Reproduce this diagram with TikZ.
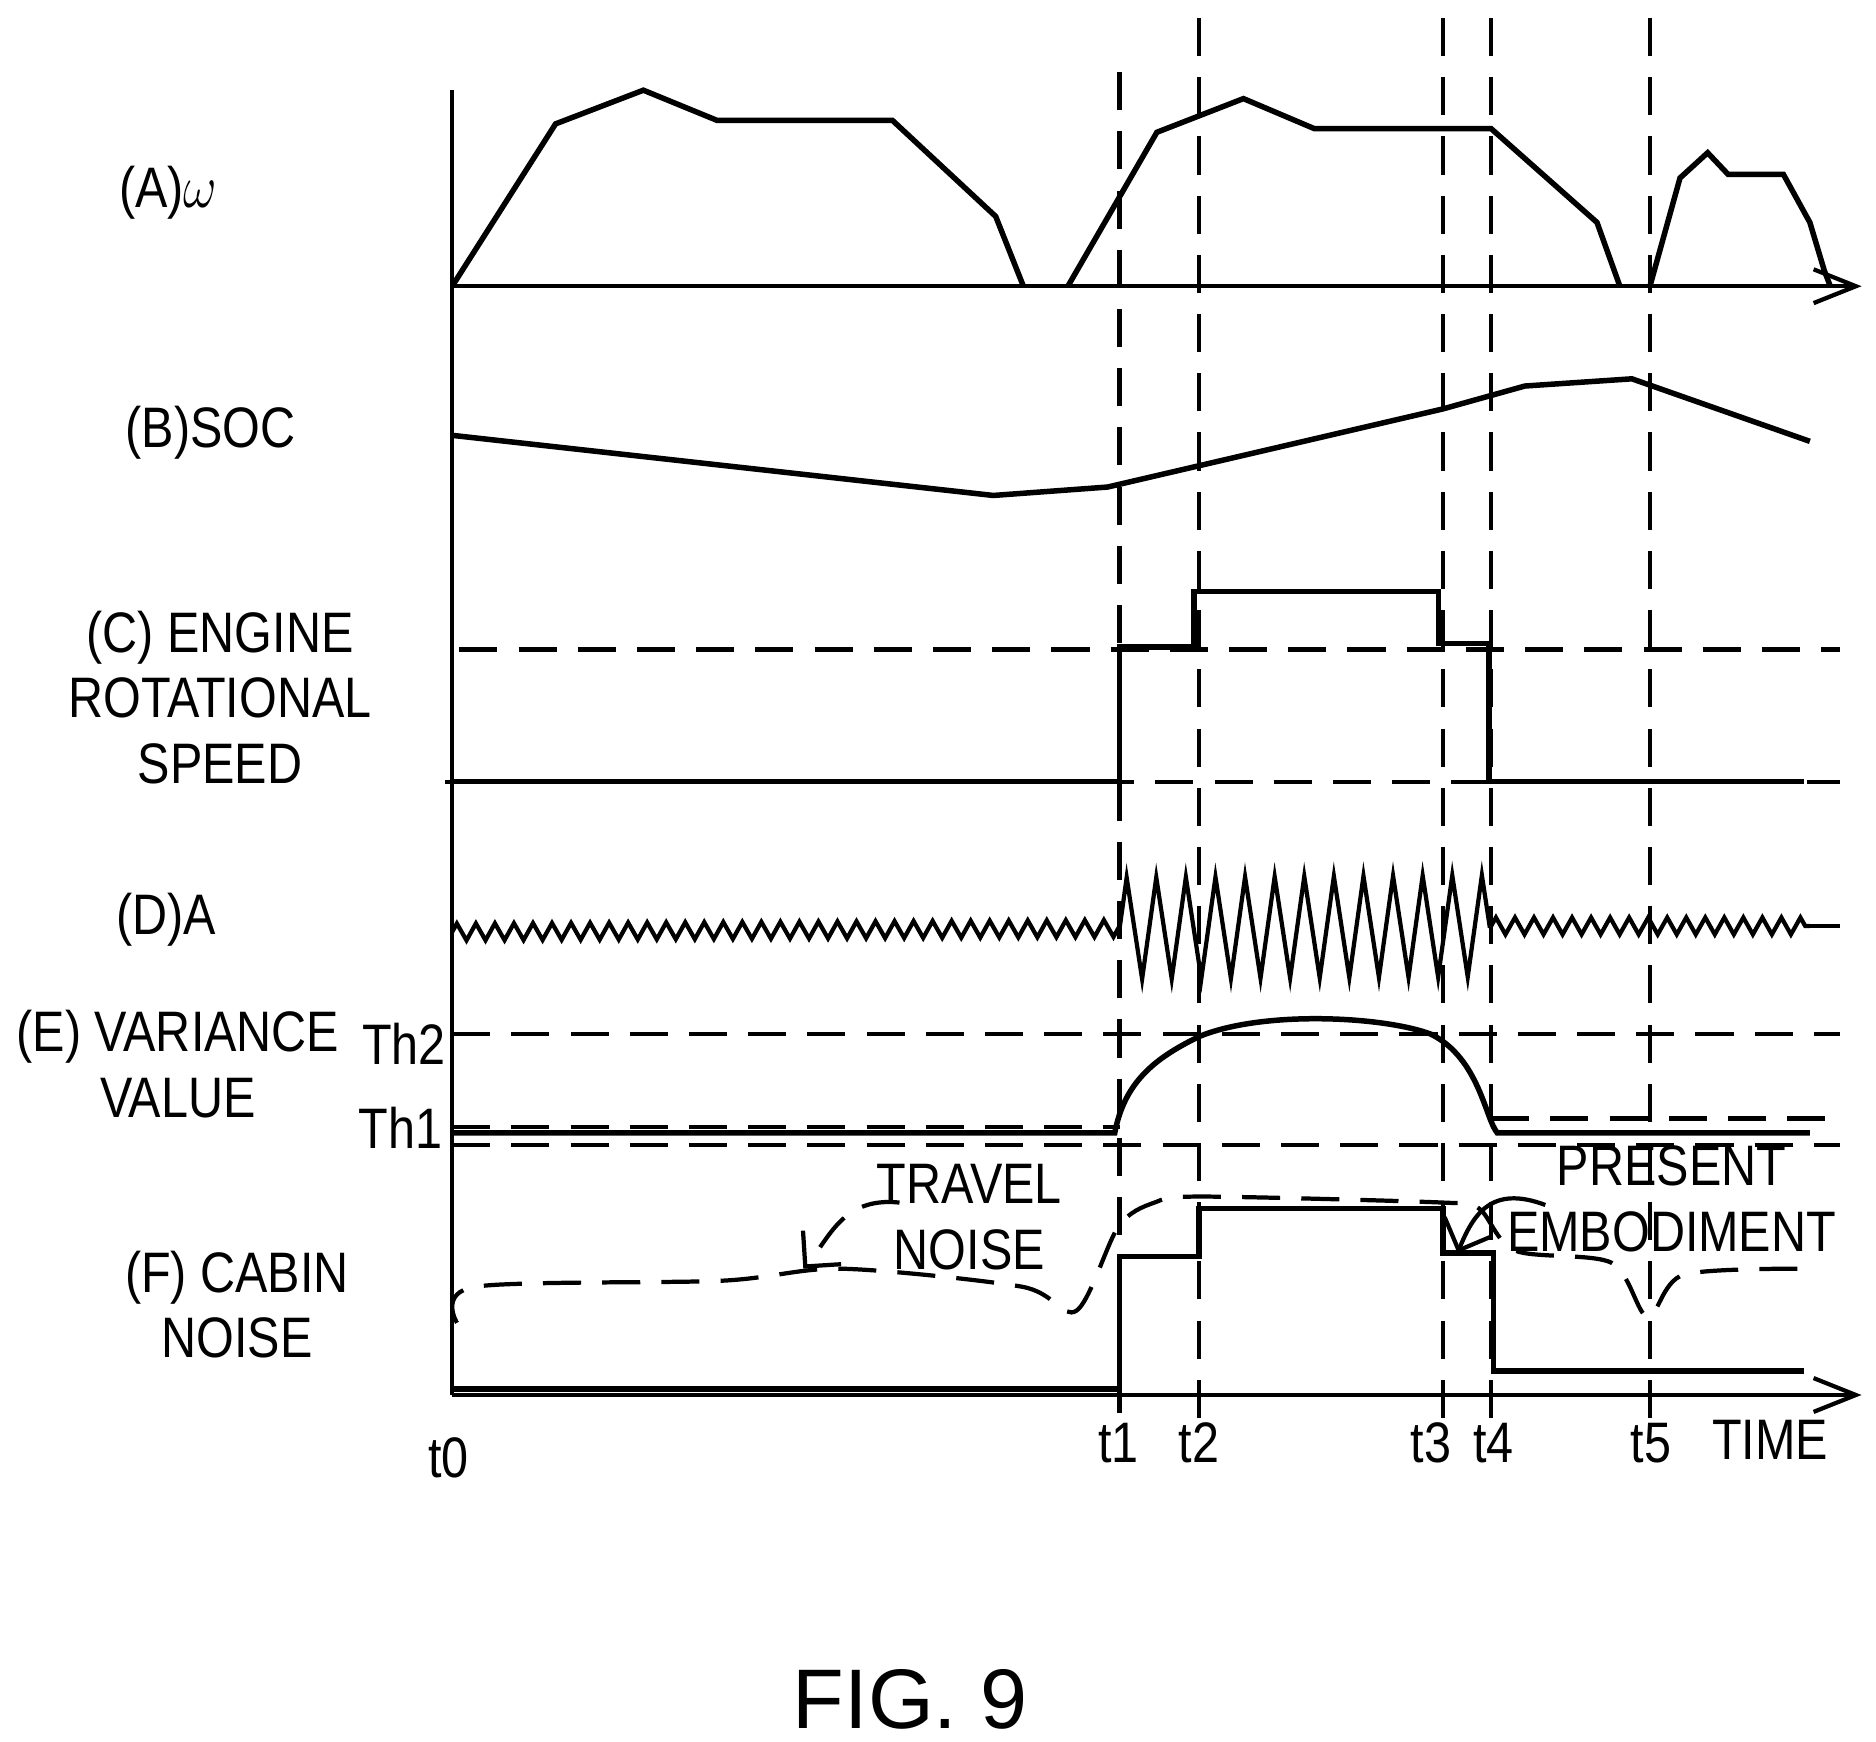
\documentclass[tikz,border=0pt]{standalone}
\usepackage{fontspec}
\setmainfont{Liberation Sans}
\usetikzlibrary{arrows.meta,decorations.pathmorphing}
\begin{document}
\begin{tikzpicture}[x=0.01cm,y=-0.01cm,line width=1.3pt,
 lbl/.style={font=\fontsize{13.5}{15.5}\selectfont,align=center,inner sep=0pt,xscale=0.85},
 dsh/.style={dash pattern=on 9pt off 5pt,line width=1pt},
 vd/.style={dash pattern=on 9pt off 5pt,line width=1pt},
 ax/.style={-{Straight Barb[open,length=10pt,width=8pt]},line width=1pt}]
\useasboundingbox (0,0) rectangle (1560,1448);
% axes
\draw[line width=1pt] (376,75) -- (376,1160);
\draw[ax] (376,238) -- (1548,238);
\draw[ax] (376,1160) -- (1548,1160);
% verticals
\foreach \x/\y in {931/60,997/15,1200/15,1240/15,1372/15}
  \draw[vd] (\x,\y) -- (\x,1185);
% A
\draw (376,238)--(462,103)--(535,75)--(596,100)--(742,100)--(828,180)--(851,238);
\draw (888,238)--(962,110)--(1034,82)--(1093,107)--(1240,107)--(1328,185)--(1347,238);
\draw (1372,238)--(1397,148)--(1420,127)--(1437,145)--(1483,145)--(1505,185)--(1517,225)--(1522,238);
% B
\draw (376,362)--(826,412)--(921,405)--(1200,340)--(1268,321)--(1357,315)--(1505,367);
% C
\draw[dsh] (382,540)--(1530,540);
\draw[dsh] (370,650)--(1530,650);
\draw (376,650)--(931,650)--(931,538)--(993,538)--(993,492)--(1196,492)--(1196,535)--(1238,535)--(1238,650)--(1500,650);
% D
\draw[line width=1pt,decorate,decoration={zigzag,segment length=4.5pt,amplitude=2pt}] (376,775)--(931,772);
\draw[line width=1pt,decorate,decoration={zigzag,segment length=7pt,amplitude=12pt}] (931,772)--(1240,770);
\draw[line width=1pt,decorate,decoration={zigzag,segment length=4.5pt,amplitude=2pt}] (1240,770)--(1505,770);
\draw[line width=1pt] (1505,770)--(1530,770);
% E
\draw[dsh] (376,860)--(1530,860);
\draw[dsh] (376,937)--(931,937);
\draw[dsh] (1240,930)--(1530,930);
\draw[dsh] (376,952)--(1530,952);
\draw (376,942)--(927,942) .. controls (935,900) and (960,880) .. (997,862)
  .. controls (1050,840) and (1150,845) .. (1190,860) .. controls (1230,880) and (1235,930) .. (1245,942) -- (1505,942);
% F
\draw (376,1155)--(931,1155)--(931,1045)--(997,1045)--(997,1005)--(1200,1005)--(1200,1042)--(1242,1042)--(1242,1140)--(1500,1140);
\draw[dsh] plot[smooth] coordinates {(380,1100)(395,1070)(600,1065)(700,1055)(850,1070)(895,1090)(930,1020)(960,1000)(1000,995)(1200,1000)(1230,1005)(1260,1040)(1340,1050)(1370,1095)(1400,1060)(1500,1055)};
\node[lbl] (tn) at (806,1012) {TRAVEL\\NOISE};
\node[lbl] (pe) at (1390,997) {PRESENT\\EMBODIMENT};
\draw[dsh,-{Straight Barb[length=6pt]}] (748,1000) .. controls (700,995) and (690,1030) .. (668,1055);
\draw[line width=1pt,-{Straight Barb[length=6pt]}] (1285,1002) .. controls (1240,985) and (1225,1010) .. (1212,1042);
% labels
\node[lbl] (la) at (140,160) {(A)$\omega$};
\node[lbl] (lb) at (175,360) {(B)SOC};
\node[lbl] (lc) at (183,580) {(C) ENGINE\\ROTATIONAL\\SPEED};
\node[lbl] (ld) at (138,765) {(D)A};
\node[lbl] (le) at (148,885) {(E) VARIANCE\\VALUE};
\node[lbl] (th2) at (336,868) {Th2};
\node[lbl] (th1) at (333,938) {Th1};
\node[lbl] (lf) at (197,1085) {(F) CABIN\\NOISE};
\node[lbl] (t0) at (373,1212) {t0};
\node[lbl] (t1) at (930,1200) {t1};
\node[lbl] (t2) at (997,1200) {t2};
\node[lbl] (t3) at (1190,1200) {t3};
\node[lbl] (t4) at (1242,1200) {t4};
\node[lbl] (t5) at (1373,1200) {t5};
\node[lbl] (tm) at (1472,1197) {TIME};
\node[font=\fontsize{20}{22}\selectfont,inner sep=0pt] (fig) at (757,1413) {FIG. 9};
\end{tikzpicture}
\end{document}
